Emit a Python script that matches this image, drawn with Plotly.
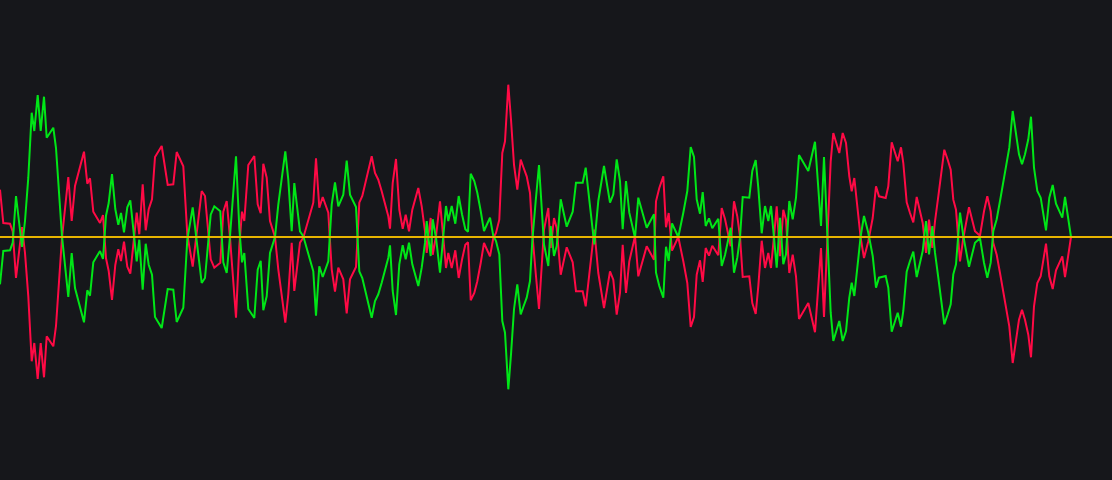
# Mirrored oscillator lines around a zero line, dark theme
import plotly.graph_objects as go

# sample position (time axis)
t = [0, 3.3, 10, 12.7, 16, 22, 25, 28.3, 31.7, 34.3, 37.7, 40.7, 44, 46.7, 53.3, 56, 62, 68.3, 71.7, 75,
     84, 87.3, 90, 93.3, 100, 103, 106, 108.7, 112, 115.3, 118.3, 121, 124, 127.3, 130.3, 133.7, 136.7, 139.3, 142.7, 145.7,
     148.7, 152, 155, 161.7, 167.7, 173.3, 176.7,
     183.3, 187.3, 192.7, 197.3, 201.7, 205, 210.7, 214.3, 220.3, 223.3, 226.7, 230, 236, 239.3, 242, 244.3, 248.3, 254.3, 257.7, 260.7,
     263.3, 266.7, 270, 275, 278.3, 285.3, 288.3, 291.7, 294.3, 300, 303.3, 310, 313.3, 316, 319.3, 322.7, 328.3, 331.7, 335, 338.3,
     343.3, 346.7, 350, 356, 359.3, 362.3, 366.7,
     371.7, 375, 378.3, 381.7, 385, 388.3, 390, 392.7, 396, 399.3, 402.7, 405.7, 409, 412.3, 418.3, 421.7, 425, 426.7, 428.3, 430.7,
     432.7, 436, 440, 443.3, 446, 448.3, 451.7, 455.3, 458.7, 462, 465.3, 468, 470.7, 474.3, 477.3, 480.7, 484, 486.7, 490, 493.3,
     496, 499.3, 502.3, 505, 508.3, 511, 514, 517.3, 520.7, 523.3, 526.7, 530, 532.3, 535.7, 539,
     544, 548.3, 550.7, 554, 556.7, 560.7, 566.7, 572.7, 576, 582.7, 585.7, 589.3, 594.3, 598.3, 604, 610, 613.3, 616.7, 620, 622.7,
     626, 629.3, 635, 638.3, 646.7, 654, 656, 659.3, 663.3, 666, 668.7, 672, 678.3, 683.3, 687.3, 690.7, 694, 696.7, 700, 702.7,
     705.7, 709, 712.3, 718.3, 721.7, 725, 728.3,
     730.7, 734, 737.3, 740, 742.7, 749.3, 752.3, 755.7, 758.3, 761.7, 765, 768.3, 771, 774, 776.7, 780, 783.3, 786, 789.3, 792.7,
     796, 799, 808.3, 815, 821, 824, 827.3, 830.7, 833.3, 839.3, 842.7, 846, 849.3, 851.7, 854.3, 857.3, 860.7, 864, 868.3, 872.7,
     876, 879, 885.7, 888.3, 891.7, 897.7, 901,
     903.3, 906.7, 910, 913.3, 916.7, 919.3, 922.7, 926, 929, 932.3, 935, 938.3, 941.7, 944.3, 947.7, 950.7, 953.3, 956, 960, 963.3,
     969, 972.3, 975, 980, 984, 987.3, 990.7, 993.3, 996.7, 1000, 1003.3, 1006.7, 1009.3, 1012.7, 1015.7, 1019, 1022, 1025, 1028.3, 1031,
     1034, 1037.3, 1040.7, 1043.3, 1046, 1049.3, 1052.7, 1056, 1059.3, 1062.3, 1065, 1068.3, 1071]

red = [47.3, 14, 13.3, 5.7, -41, 10, -16, -59.3, -124.3, -106, -142, -106, -140.3, -99.3, -109.3, -89, -0.7, 60, 16, 51,
       85.3, 53.3, 58.7, 25.3, 14, 22, -21.3, -34, -63, -28, -12.3, -24, -4.7, -29.7, -36.7, -5.7, 24.3, 2.7, 52.7, 6.7,
       27.7, 37.7, 80, 91, 52, 52.7, 85,
       70.7, 2.7, -29.7, 9.3, 46, 41, -22.3, -30.7, -25.7, 25.3, 36, -0.7, -80.7, -9, 25.3, 16, 72, 81, 32.7, 23.7,
       73.3, 59.3, 16, 0, -32.3, -85.7, -57.3, -5.7, -54, -5.7, -0.7, 22.7, 34.3, 78.7, 29.3, 40, 24.3, -32.3, -54.7, -30.7,
       -42.3, -76.3, -42.3, -30, 34.3, 41, 59.3,
       80.7, 64, 57.3, 45.7, 34, 20.7, 8.3, 54, 78, 27.3, 8.3, 22.3, 5.7, 27.3, 49, 30.7, 5.7, -16, 0.7, 19,
       -17.7, 0.7, 35.7, 0.7, -31, -16, -31, -13.3, -41, -22.7, -7.7, -5.3, -63.3, -56, -44.3, -26, -6, -12, -19.3, -1,
       4, 17.3, 84, 95.7, 152.3, 117.3, 72.3, 47.3, 77.3, 70, 60.7, 44, 4, -36, -72,
       7.3, 29, -11, 19, 9, -37.7, -10.3, -25.3, -54.3, -54.3, -69.3, -36, 7.3, -36, -71, -34.3, -42.7, -77.7, -56, -7.7,
       -56, -24.3, 0.7, -39.3, -9.3, -22.7, 35.7, 49, 60.7, 9.7, 24, -13.7, 0, -24.3, -46, -90, -80, -37.7, -23.3, -45,
       -11, -18.7, -8.7, -18.3, 29, 18, 0.7,
       -9.3, 35.7, 20.7, 0.7, -40, -39.3, -66, -77, -49.3, -3.7, -31, -16, -31, 0.7, 30.7, -19.3, 27.3, 17.3, -36, -17.7,
       -39.3, -82, -66, -95.3, -11, -80, -2.7, 75.7, 104, 84, 104, 94, 60.7, 45.7, 59, 30.7, -1, -21, -4.3, 19,
       50.7, 40.7, 39, 50.7, 94.7, 75.7, 89.7,
       74, 34.7, 24, 14.7, 40, 29, 14, -16, 17.3, -11, 15.7, 40.7, 67.3, 87.3, 77.3, 67.3, 37.3, 27.3, -24.3, -1,
       29.7, 17.3, 5.7, 1.3, 25.7, 40.7, 25.7, -6, -17.7, -36, -56, -76, -89.3, -126, -106, -82.7, -72.7, -82.7, -97.7, -120.3,
       -69.3, -46, -39.3, -24.3, -6.7, -39.3, -52, -33.3, -25.3, -19.3, -40, -19.3, 0]

green = [-47.3, -14, -13.3, -5.7, 41, -10, 16, 59.3, 124.3, 106, 142, 106, 140.3, 99.3, 109.3, 89, 0.7, -60, -16, -51,
         -85.3, -53.3, -58.7, -25.3, -14, -22, 21.3, 34, 63, 28, 12.3, 24, 4.7, 29.7, 36.7, 5.7, -24.3, -2.7, -52.7, -6.7,
         -27.7, -37.7, -80, -91, -52, -52.7, -85,
         -70.7, -2.7, 29.7, -9.3, -46, -41, 22.3, 30.7, 25.7, -25.3, -36, 0.7, 80.7, 9, -25.3, -16, -72, -81, -32.7, -23.7,
         -73.3, -59.3, -16, 0, 32.3, 85.7, 57.3, 5.7, 54, 5.7, 0.7, -22.7, -34.3, -78.7, -29.3, -40, -24.3, 32.3, 54.7, 30.7,
         42.3, 76.3, 42.3, 30, -34.3, -41, -59.3,
         -80.7, -64, -57.3, -45.7, -34, -20.7, -8.3, -54, -78, -27.3, -8.3, -22.3, -5.7, -27.3, -49, -30.7, -5.7, 16, -0.7, -19,
         17.7, -0.7, -35.7, -0.7, 31, 16, 31, 13.3, 41, 22.7, 7.7, 5.3, 63.3, 56, 44.3, 26, 6, 12, 19.3, 1,
         -4, -17.3, -84, -95.7, -152.3, -117.3, -72.3, -47.3, -77.3, -70, -60.7, -44, -4, 36, 72,
         -7.3, -29, 11, -19, -9, 37.7, 10.3, 25.3, 54.3, 54.3, 69.3, 36, -7.3, 36, 71, 34.3, 42.7, 77.7, 56, 7.7,
         56, 24.3, -0.7, 39.3, 9.3, 22.7, -35.7, -49, -60.7, -9.7, -24, 13.7, 0, 24.3, 46, 90, 80, 37.7, 23.3, 45,
         11, 18.7, 8.7, 18.3, -29, -18, -0.7,
         9.3, -35.7, -20.7, -0.7, 40, 39.3, 66, 77, 49.3, 3.7, 31, 16, 31, -0.7, -30.7, 19.3, -27.3, -17.3, 36, 17.7,
         39.3, 82, 66, 95.3, 11, 80, 2.7, -75.7, -104, -84, -104, -94, -60.7, -45.7, -59, -30.7, 1, 21, 4.3, -19,
         -50.7, -40.7, -39, -50.7, -94.7, -75.7, -89.7,
         -74, -34.7, -24, -14.7, -40, -29, -14, 16, -17.3, 11, -15.7, -40.7, -67.3, -87.3, -77.3, -67.3, -37.3, -27.3, 24.3, 1,
         -29.7, -17.3, -5.7, -1.3, -25.7, -40.7, -25.7, 6, 17.7, 36, 56, 76, 89.3, 126, 106, 82.7, 72.7, 82.7, 97.7, 120.3,
         69.3, 46, 39.3, 24.3, 6.7, 39.3, 52, 33.3, 25.3, 19.3, 40, 19.3, 0]

fig = go.Figure()
fig.add_trace(go.Scatter(x=t, y=red, mode="lines", line=dict(color="#ff0a45", width=2)))
fig.add_trace(go.Scatter(x=t, y=green, mode="lines", line=dict(color="#00e617", width=2)))

# zero line on top
fig.add_hline(y=0, line=dict(color="#e8b400", width=2), layer="above")

fig.update_layout(
    width=1112, height=480,
    paper_bgcolor="#16171b", plot_bgcolor="#16171b",
    margin={"r": 0, "t": 0, "l": 0, "b": 0},
    showlegend=False,
)
fig.update_xaxes(range=[0, 1112], visible=False, showgrid=False, zeroline=False)
fig.update_yaxes(range=[-243, 237], visible=False, showgrid=False, zeroline=False)

# drop the page margin so the chart fills the window, no modebar
fig.write_html("out.html",
               config={"displayModeBar": False},
               post_script="document.body.style.margin='0';document.body.style.background='#16171b';")
